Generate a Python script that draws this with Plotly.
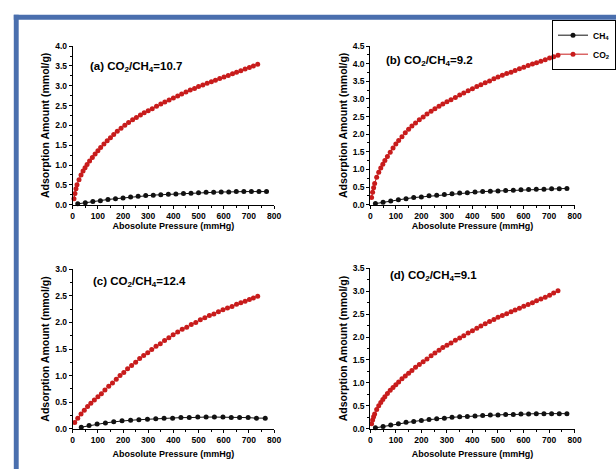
import plotly.graph_objects as go

W, H = 616, 469

# ---------------- data ----------------
x_co2 = [5, 9, 13, 17, 25, 33, 41, 49, 57, 67, 78, 89, 100, 111, 124, 137, 150, 163, 177,
         192, 207, 222, 238, 253, 269, 284, 300, 316, 333, 350, 366, 383, 400, 417, 433,
         450, 467, 484, 500, 517, 534, 551, 567, 584, 601, 618, 635, 651, 668, 685, 702,
         718, 735]
co2_a = [0.15, 0.28, 0.40, 0.50, 0.63, 0.75, 0.85, 0.93, 1.01, 1.10, 1.19, 1.28, 1.36, 1.44,
         1.53, 1.61, 1.69, 1.77, 1.85, 1.93, 2.00, 2.07, 2.14, 2.20, 2.26, 2.32, 2.37, 2.42,
         2.48, 2.54, 2.59, 2.64, 2.69, 2.74, 2.79, 2.84, 2.89, 2.93, 2.98, 3.02, 3.06, 3.10,
         3.14, 3.18, 3.22, 3.26, 3.30, 3.34, 3.38, 3.42, 3.46, 3.50, 3.54]
co2_b = [0.20, 0.35, 0.48, 0.60, 0.78, 0.92, 1.04, 1.15, 1.25, 1.37, 1.49, 1.61, 1.72, 1.82,
         1.93, 2.04, 2.14, 2.23, 2.32, 2.41, 2.49, 2.57, 2.65, 2.72, 2.79, 2.86, 2.92, 2.98,
         3.04, 3.11, 3.17, 3.23, 3.29, 3.35, 3.40, 3.46, 3.51, 3.57, 3.62, 3.67, 3.72, 3.76,
         3.81, 3.86, 3.90, 3.95, 3.99, 4.03, 4.07, 4.11, 4.16, 4.20, 4.24]
co2_d = [0.11, 0.19, 0.26, 0.32, 0.42, 0.50, 0.57, 0.64, 0.70, 0.77, 0.84, 0.90, 0.96, 1.02,
         1.09, 1.15, 1.21, 1.27, 1.34, 1.40, 1.46, 1.52, 1.59, 1.65, 1.71, 1.77, 1.82, 1.87,
         1.93, 1.98, 2.03, 2.09, 2.14, 2.19, 2.24, 2.29, 2.34, 2.38, 2.43, 2.47, 2.51, 2.55,
         2.59, 2.63, 2.67, 2.71, 2.75, 2.79, 2.83, 2.87, 2.91, 2.96, 3.01]

x_co2_c = [8, 20, 33, 46, 59, 72, 86, 100, 114, 128, 143, 158, 173, 188, 203, 218, 234, 250,
           266, 282, 298, 314, 331, 348, 365, 382, 399, 417, 435, 453, 471, 489, 507, 525,
           543, 561, 579, 597, 615, 633, 651, 668, 685, 702, 718, 735]
co2_c = [0.12, 0.20, 0.28, 0.35, 0.42, 0.48, 0.54, 0.60, 0.66, 0.73, 0.80, 0.86, 0.93, 1.00,
         1.06, 1.13, 1.19, 1.25, 1.32, 1.38, 1.43, 1.49, 1.55, 1.60, 1.66, 1.71, 1.77, 1.82,
         1.87, 1.91, 1.96, 2.00, 2.05, 2.09, 2.13, 2.16, 2.20, 2.24, 2.27, 2.30, 2.34, 2.37,
         2.40, 2.43, 2.46, 2.49]

x_ch4 = [20, 50, 80, 110, 140, 170, 200, 230, 260, 290, 320, 350, 380, 410, 440, 470, 500,
         530, 560, 590, 620, 650, 680, 710, 740, 770]
ch4_a = [0.02, 0.05, 0.08, 0.10, 0.13, 0.15, 0.17, 0.19, 0.21, 0.23, 0.24, 0.25, 0.26, 0.27,
         0.28, 0.29, 0.30, 0.31, 0.31, 0.32, 0.32, 0.33, 0.33, 0.33, 0.33, 0.33]
ch4_b = [0.03, 0.07, 0.10, 0.14, 0.17, 0.20, 0.22, 0.25, 0.27, 0.29, 0.31, 0.33, 0.34, 0.36,
         0.37, 0.38, 0.39, 0.40, 0.41, 0.42, 0.43, 0.44, 0.44, 0.45, 0.45, 0.46]
ch4_d = [0.02, 0.05, 0.08, 0.11, 0.14, 0.16, 0.18, 0.20, 0.22, 0.23, 0.25, 0.26, 0.27, 0.28,
         0.29, 0.30, 0.30, 0.31, 0.31, 0.32, 0.32, 0.33, 0.33, 0.33, 0.33, 0.33]
x_ch4_c = [34, 65, 97, 130, 163, 196, 230, 263, 297, 330, 363, 397, 430, 463, 497, 530, 563,
           597, 630, 663, 697, 730, 765]
ch4_c = [0.03, 0.06, 0.09, 0.11, 0.13, 0.15, 0.16, 0.17, 0.18, 0.19, 0.20, 0.20, 0.21, 0.21,
         0.22, 0.22, 0.22, 0.22, 0.21, 0.21, 0.21, 0.20, 0.20]

panel_labels = ["(a) CO<sub>2</sub>/CH<sub>4</sub>=10.7", "(b) CO<sub>2</sub>/CH<sub>4</sub>=9.2",
                "(c) CO<sub>2</sub>/CH<sub>4</sub>=12.4", "(d) CO<sub>2</sub>/CH<sub>4</sub>=9.1"]
y_max = [4.0, 4.5, 3.0, 3.5]
x_title = "Abosolute Pressure (mmHg)"
y_title = "Adsorption Amount (mmol/g)"
legend_names = ["CH<sub>4</sub>", "CO<sub>2</sub>"]

# ---------------- layout geometry (pixels) ----------------
FONT = "Liberation Sans, Arial, sans-serif"
RED = "#c81c1c"
BLACK = "#111111"
BLUE = "#4a6fae"

def fx(px):
    return px / W

def fy(py):
    return 1 - py / H

# plot-area pixel boxes: (left, right, top, bottom)
boxes = [(72, 277, 42, 204), (375, 583, 42, 204), (72, 277, 270, 433), (375, 583, 269, 433)]
label_pos = [(88, 63), (389, 57), (91, 283), (393, 277)]
xt_standoff = [0, 0, 6, 6]

series = [
    (x_ch4, ch4_a, x_co2, co2_a),
    (x_ch4, ch4_b, x_co2, co2_b),
    (x_ch4_c, ch4_c, x_co2_c, co2_c),
    (x_ch4, ch4_d, x_co2, co2_d),
]

fig = go.Figure()
layout = dict(
    width=W, height=H, margin=dict(l=0, r=0, t=0, b=0),
    paper_bgcolor="white", plot_bgcolor="white",
    font=dict(family=FONT, color="black"),
    showlegend=True,
    legend=dict(x=fx(560), y=fy(15), xanchor="left", yanchor="top",
                bgcolor="rgba(255,255,255,0)", bordercolor="black", borderwidth=1,
                font=dict(size=8.5, family=FONT, weight="bold"),
                tracegroupgap=0, itemwidth=30),
)

annotations = []
for i, (box, (xc, yc, xr, yr)) in enumerate(zip(boxes, series)):
    n = "" if i == 0 else str(i + 1)
    xa, ya = "x" + n, "y" + n
    l, r, t, b = box
    fig.add_trace(go.Scatter(
        x=xc, y=yc, xaxis=xa, yaxis=ya, mode="lines+markers", name=legend_names[0],
        legendgroup="ch4", showlegend=(i == 0), cliponaxis=False,
        line=dict(color=BLACK, width=1), marker=dict(color=BLACK, size=5)))
    fig.add_trace(go.Scatter(
        x=xr, y=yr, xaxis=xa, yaxis=ya, mode="lines+markers", name=legend_names[1],
        legendgroup="co2", showlegend=(i == 0), cliponaxis=False,
        line=dict(color=RED, width=1), marker=dict(color=RED, size=5)))
    layout["xaxis" + n] = dict(
        domain=[fx(l), fx(r)], range=[0, 800], anchor=ya, showgrid=False, zeroline=False,
        showline=True, linecolor="black", linewidth=1, ticks="outside", ticklen=3,
        tickwidth=1, tickcolor="black", dtick=100, tick0=0,
        tickfont=dict(size=8.5, family=FONT, weight="bold"),
        minor=dict(ticks="outside", ticklen=2, dtick=50, tickcolor="black", tickwidth=1),
        title=dict(text=x_title, standoff=xt_standoff[i],
                   font=dict(size=9, family=FONT, weight="bold")))
    layout["yaxis" + n] = dict(
        domain=[fy(b), fy(t)], range=[0, y_max[i]], anchor=xa, showgrid=False, zeroline=False,
        showline=True, linecolor="black", linewidth=1, ticks="outside", ticklen=3,
        tickwidth=1, tickcolor="black", dtick=0.5, tick0=0, tickformat=".1f",
        tickfont=dict(size=8.5, family=FONT, weight="bold"),
        minor=dict(ticks="outside", ticklen=2, dtick=0.25, tickcolor="black", tickwidth=1),
        title=dict(text=y_title, standoff=3,
                   font=dict(size=10.5, family=FONT, weight="bold")))
    lx, ly = label_pos[i]
    annotations.append(dict(
        text="<b>" + panel_labels[i] + "</b>", xref="paper", yref="paper",
        x=fx(lx), y=fy(ly), xanchor="left", yanchor="middle", showarrow=False,
        font=dict(size=11.5, family=FONT, color="black")))

layout["annotations"] = annotations
layout["shapes"] = [
    dict(type="rect", xref="paper", yref="paper", x0=fx(12), x1=1.02, y0=fy(15), y1=fy(10),
         fillcolor=BLUE, line=dict(width=0), layer="above"),
    dict(type="rect", xref="paper", yref="paper", x0=fx(12), x1=fx(17), y0=-0.02, y1=fy(10),
         fillcolor=BLUE, line=dict(width=0), layer="above"),
]
fig.update_layout(**layout)
# remove the browser's default 8px body margin so the figure fills the window exactly
fig.write_html("out.html", config={"displayModeBar": False},
               post_script="document.body.style.margin='0';document.body.style.overflow='hidden';")
